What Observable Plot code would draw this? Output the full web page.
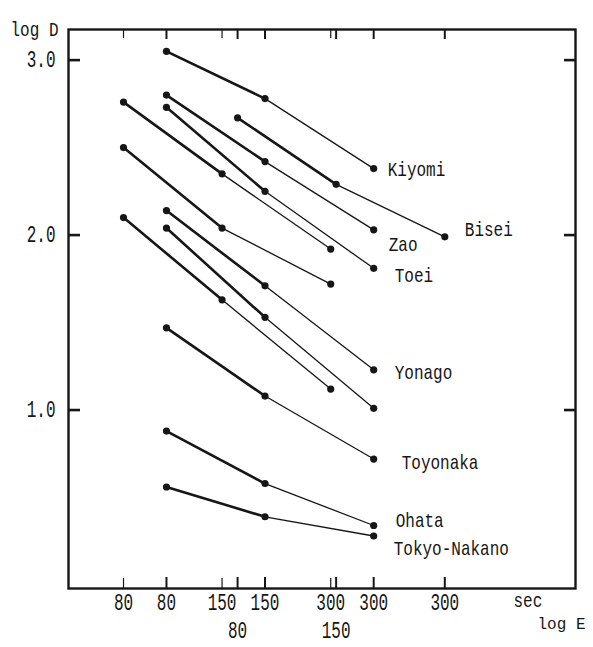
<!DOCTYPE html>
<html>
<head>
<meta charset="utf-8">
<script src="https://cdn.jsdelivr.net/npm/d3@7"></script>
<script src="https://cdn.jsdelivr.net/npm/@observablehq/plot@0.6"></script>
<style>
  html, body { margin: 0; padding: 0; background: #fff; }
</style>
</head>
<body>
<div id="chart"></div>
<script>
// ---- data ----
const exposureSec = [80, 150, 300];               // exposure times E (sec)
const seriesId    = ["Kiyomi", "Zao", "Toei", "Yonago", "B5", "Toyonaka", "Ohata", "Tokyo-Nakano", "Bisei", "A1", "A2", "A3"];
const seriesLabel = ["Kiyomi", "Zao", "Toei", "Yonago", "", "Toyonaka", "Ohata", "Tokyo-Nakano", "Bisei", "", "", ""];
const seriesAxis  = ["B", "B", "B", "B", "B", "B", "B", "B", "C", "A", "A", "A"]; // which staggered E-axis
const logD_80  = [3.05, 2.80, 2.73, 2.14, 2.04, 1.47, 0.88, 0.56, 2.67, 2.76, 2.50, 2.10];
const logD_150 = [2.78, 2.42, 2.25, 1.71, 1.53, 1.08, 0.58, 0.39, 2.29, 2.35, 2.04, 1.63];
const logD_300 = [2.38, 2.03, 1.81, 1.23, 1.01, 0.72, 0.34, 0.28, 1.99, 1.92, 1.72, 1.12];
const yTicks = [1, 2, 3];

// staggered log E axes (shift in decades)
const axisShift = {A: 0, B: 0.119, C: 0.316};
const pos = (E, a) => Math.log10(E) + axisShift[a];

// ---- build tables ----
const points = [];
const segments = [];
seriesId.forEach((id, i) => {
  const vals = [logD_80[i], logD_150[i], logD_300[i]];
  const pts = exposureSec.map((E, j) => ({id, E, x: pos(E, seriesAxis[i]), y: vals[j]}));
  points.push(...pts);
  segments.push({id, seg: 0, x1: pts[0].x, y1: pts[0].y, x2: pts[1].x, y2: pts[1].y});
  segments.push({id, seg: 1, x1: pts[1].x, y1: pts[1].y, x2: pts[2].x, y2: pts[2].y});
});

const tickRows = [];
["A", "B", "C"].forEach(a => exposureSec.forEach(E =>
  tickRows.push({a, E, x: pos(E, a), row: (a === "C" && E < 300) ? 2 : 1})));

// label nudges (pixels) next to the 300 s end point
const labelNudge = {
  "Kiyomi": [14, 1], "Bisei": [20, -8], "Zao": [15, 14], "Toei": [21, 7],
  "Yonago": [21, 2], "Toyonaka": [28, 3], "Ohata": [22, -5], "Tokyo-Nakano": [20, 12]
};
const endPoints = seriesId.map((id, i) => ({
  label: seriesLabel[i], x: pos(300, seriesAxis[i]), y: logD_300[i]
})).filter(d => d.label);

const ink = "#161616";

const chart = Plot.plot({
  width: 593,
  height: 647,
  marginLeft: 68,
  marginRight: 18,
  marginTop: 29,
  marginBottom: 59,
  style: {fontFamily: "'Liberation Mono', 'DejaVu Sans Mono', monospace", fontSize: "21px", color: ink, background: "#fff"},
  x: {type: "linear", domain: [1.7507, 3.1552], label: null},
  y: {type: "linear", domain: [-0.02, 3.175], label: null},
  marks: [
    Plot.frame({stroke: ink, strokeWidth: 2.4}),
    // inward ticks
    Plot.axisX(tickRows.filter(d => d.a === "A").map(d => d.x), {anchor: "bottom", tickSize: -10, fill: "none", strokeWidth: 1.2, label: null}),
    Plot.axisX(tickRows.filter(d => d.a !== "A").map(d => d.x), {anchor: "bottom", tickSize: -11, fill: "none", strokeWidth: 2, label: null}),
    Plot.axisX(tickRows.filter(d => d.a === "A").map(d => d.x), {anchor: "top", tickSize: -8, fill: "none", strokeWidth: 1.2, label: null}),
    Plot.axisX(tickRows.filter(d => d.a !== "A").map(d => d.x), {anchor: "top", tickSize: -9, fill: "none", strokeWidth: 2, label: null}),
    Plot.axisY(yTicks, {anchor: "left", tickSize: -12, fill: "none", strokeWidth: 2.6, label: null}),
    Plot.axisY(yTicks, {anchor: "right", tickSize: -12, fill: "none", strokeWidth: 2.6, label: null}),
    Plot.axisY(yTicks, {anchor: "left", tickSize: 0, tickPadding: 13, tickFormat: d3.format(".1f"), fontSize: 23, label: null}),
    // x tick labels (two rows)
    Plot.text(tickRows.filter(d => d.row === 1), {x: "x", text: d => String(d.E), frameAnchor: "bottom", dy: 21, fontSize: 23, fill: ink}),
    Plot.text(tickRows.filter(d => d.row === 2), {x: "x", text: d => String(d.E), frameAnchor: "bottom", dy: 49, fontSize: 23, fill: ink}),
    // axis titles
    Plot.text(["log D"], {frameAnchor: "top-left", textAnchor: "start", dx: -58, dy: -8, fontSize: 20, fill: ink}),
    Plot.text(["sec"], {frameAnchor: "bottom-right", textAnchor: "start", dx: -62, dy: 18, fontSize: 20, fill: ink}),
    Plot.text(["log E"], {frameAnchor: "bottom-right", textAnchor: "end", dx: 10, dy: 40, fontSize: 16, fill: ink}),
    // data
    Plot.link(segments.filter(d => d.seg === 0), {x1: "x1", y1: "y1", x2: "x2", y2: "y2", stroke: ink, strokeWidth: 2.6}),
    Plot.link(segments.filter(d => d.seg === 1), {x1: "x1", y1: "y1", x2: "x2", y2: "y2", stroke: ink, strokeWidth: 1.3}),
    Plot.dot(points, {x: "x", y: "y", r: 3.6, fill: ink, stroke: "none"}),
    ...endPoints.map(d => Plot.text([d], {
      x: "x", y: "y", text: "label", textAnchor: "start",
      dx: labelNudge[d.label][0], dy: labelNudge[d.label][1], fontSize: 21, fill: ink
    }))
  ]
});

document.getElementById("chart").append(chart);

// narrow typewriter look: fixed advance per character (only where the font is wider than that)
chart.querySelectorAll("text").forEach(t => {
  const s = t.textContent;
  if (!s) return;
  const target = s.length * 9.6;
  if (t.getComputedTextLength() > target + 0.5) {
    t.setAttribute("textLength", target.toFixed(1));
    t.setAttribute("lengthAdjust", "spacingAndGlyphs");
  }
});
</script>
</body>
</html>
